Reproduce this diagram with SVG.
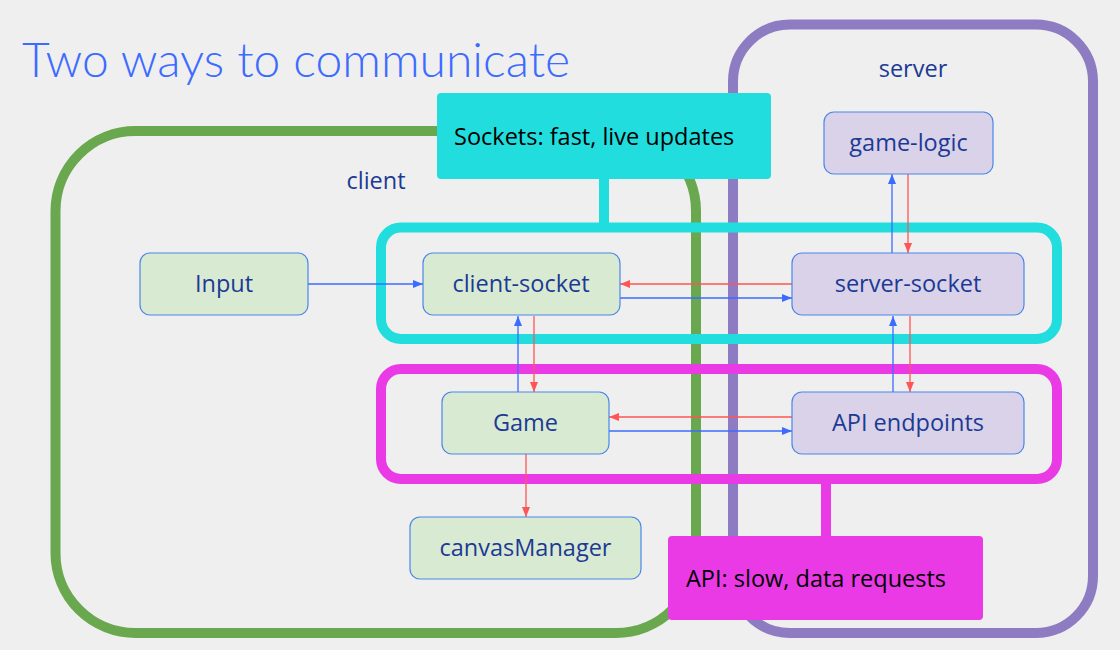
<svg xmlns="http://www.w3.org/2000/svg" width="1120" height="650" viewBox="0 0 1120 650">
<defs>
<style>
.bg{fill:#efefef}
.title{font-family:Lato,"Open Sans",sans-serif;font-weight:300;font-size:48px;fill:#3d6bff}
.grp{font-family:"Open Sans","Noto Sans",sans-serif;font-size:23.5px;fill:#1c3a94;text-anchor:middle}
.lbl{font-family:"Open Sans","Noto Sans",sans-serif;font-size:23.5px;fill:#1c3a94;text-anchor:middle}
.note{font-family:"Open Sans","Noto Sans",sans-serif;font-size:23.5px;fill:#000}
.cnode rect{fill:#d9ead3;stroke:#4a86e8;stroke-width:1.2}
.snode rect{fill:#d9d2e9;stroke:#4a86e8;stroke-width:1.2}
.blue{stroke:#3d6bff;stroke-width:1.3;fill:none;marker-end:url(#ab)}
.red{stroke:#ff5555;stroke-width:1.3;fill:none;marker-end:url(#ar)}
.frame{fill:none;stroke-width:10}
</style>
<marker id="ab" viewBox="0 0 10 8" refX="10" refY="4" markerWidth="10" markerHeight="8" markerUnits="userSpaceOnUse" orient="auto"><path d="M0,0 L10,4 L0,8 Z" fill="#3d6bff"/></marker>
<marker id="ar" viewBox="0 0 10 8" refX="10" refY="4" markerWidth="10" markerHeight="8" markerUnits="userSpaceOnUse" orient="auto"><path d="M0,0 L10,4 L0,8 Z" fill="#ff5555"/></marker>
</defs>
<rect class="bg" x="0" y="0" width="1120" height="650"/>
<text class="title" x="22" y="77">Two ways to communicate</text>

<g id="client">
<rect class="frame" x="55.5" y="131" width="640.5" height="502" rx="80" stroke="#6aa84f"/>
<text class="grp" x="376" y="189">client</text>
</g>
<g id="server">
<rect class="frame" x="733" y="24.5" width="360" height="608.5" rx="57" stroke="#8e7cc3"/>
<text class="grp" x="913" y="77">server</text>
</g>
<g id="sockets-group">
<rect class="frame" x="381" y="227.5" width="676" height="111.5" rx="20" stroke="#22dddd"/>
<line x1="604" y1="178" x2="604" y2="224" stroke="#22dddd" stroke-width="10"/>
</g>
<g id="api-group">
<rect class="frame" x="381" y="369" width="676" height="110" rx="20" stroke="#ea3ae6"/>
<line x1="826" y1="482" x2="826" y2="538" stroke="#ea3ae6" stroke-width="10"/>
</g>
<g id="sockets-note">
<rect x="437" y="93" width="334" height="86" rx="4" fill="#22dddd"/>
<text class="note" x="454" y="145">Sockets: fast, live updates</text>
</g>
<g id="api-note">
<rect x="668" y="536" width="315" height="84" rx="4" fill="#ea3ae6"/>
<text class="note" x="686" y="587">API: slow, data requests</text>
</g>

<g id="connectors">
<path class="blue" d="M308,284 H423"/>
<path class="red" d="M792,284 H620"/>
<path class="blue" d="M620,298 H792"/>
<path class="blue" d="M518,392 V316"/>
<path class="red" d="M534,316 V392"/>
<path class="red" d="M792,417 H609"/>
<path class="blue" d="M609,431 H792"/>
<path class="red" d="M526,454 V517"/>
<path class="blue" d="M892,253 V174"/>
<path class="red" d="M908,174 V253"/>
<path class="blue" d="M893,392 V316"/>
<path class="red" d="M910,316 V392"/>
</g>

<g id="input" class="cnode"><rect x="140" y="253" width="168" height="62" rx="10"/><text class="lbl" x="224" y="292">Input</text></g>
<g id="client-socket" class="cnode"><rect x="423" y="253" width="197" height="62" rx="10"/><text class="lbl" x="521" y="292">client-socket</text></g>
<g id="game" class="cnode"><rect x="442" y="392" width="167" height="62" rx="10"/><text class="lbl" x="525.5" y="431">Game</text></g>
<g id="canvasManager" class="cnode"><rect x="410" y="517" width="231" height="62" rx="10"/><text class="lbl" x="525.5" y="556">canvasManager</text></g>
<g id="game-logic" class="snode"><rect x="824" y="112" width="169" height="62" rx="10"/><text class="lbl" x="908.5" y="151">game-logic</text></g>
<g id="server-socket" class="snode"><rect x="792" y="253" width="232" height="62" rx="10"/><text class="lbl" x="908" y="292">server-socket</text></g>
<g id="api-endpoints" class="snode"><rect x="792" y="392" width="232" height="62" rx="10"/><text class="lbl" x="908" y="431">API endpoints</text></g>
</svg>
